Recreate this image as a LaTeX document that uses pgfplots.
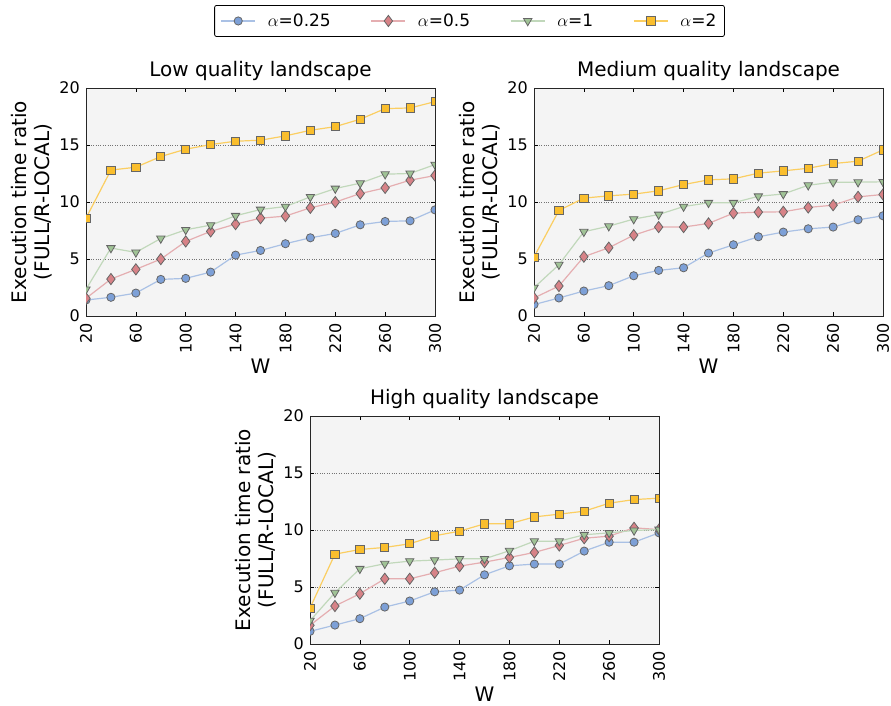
\documentclass[border=0pt]{standalone}
\usepackage{fontspec}
\setmainfont{DejaVu Sans}
\usepackage{pgfplots}
\usepackage{pgfplotstable}
\pgfplotsset{compat=1.18}

\definecolor{cb}{RGB}{125,160,215}
\definecolor{cr}{RGB}{215,130,135}
\definecolor{cg}{RGB}{160,195,150}
\definecolor{cy}{RGB}{250,190,45}
\definecolor{bgc}{RGB}{244,244,244}

\pgfplotstableread{
x a b c d
20 1.40 1.55 2.34 8.58
40 1.64 3.24 5.96 12.80
60 2.01 4.09 5.58 13.05
80 3.21 4.99 6.80 13.99
100 3.30 6.54 7.56 14.63
120 3.85 7.42 7.97 15.04
140 5.34 8.06 8.79 15.33
160 5.75 8.58 9.34 15.42
180 6.34 8.76 9.60 15.80
200 6.86 9.49 10.45 16.29
220 7.24 9.99 11.18 16.61
240 8.00 10.74 11.65 17.26
260 8.29 11.24 12.44 18.19
280 8.35 11.91 12.50 18.25
300 9.31 12.32 13.28 18.80
}\lowtab

\pgfplotstableread{
x a b c d
20 1.00 1.58 2.48 5.17
40 1.58 2.63 4.50 9.26
60 2.19 5.20 7.39 10.34
80 2.66 5.99 7.88 10.54
100 3.53 7.09 8.50 10.69
120 4.00 7.80 8.90 10.98
140 4.23 7.80 9.60 11.53
160 5.52 8.12 9.93 11.94
180 6.25 9.02 9.93 12.03
200 6.95 9.11 10.50 12.53
220 7.36 9.14 10.70 12.73
240 7.65 9.52 11.47 12.96
260 7.80 9.72 11.74 13.37
280 8.44 10.45 11.74 13.58
300 8.79 10.66 11.77 14.57
}\medtab

\pgfplotstableread{
x a b c d
20 1.11 1.64 2.04 3.15
40 1.66 3.33 4.50 7.88
60 2.22 4.41 6.60 8.29
80 3.24 5.72 7.04 8.47
100 3.77 5.72 7.27 8.79
120 4.58 6.25 7.36 9.49
140 4.73 6.83 7.47 9.90
160 6.07 7.18 7.47 10.54
180 6.86 7.59 8.18 10.54
200 7.01 8.03 9.02 11.15
220 7.01 8.64 9.02 11.39
240 8.15 9.28 9.58 11.65
260 8.93 9.46 9.75 12.35
280 8.93 10.19 9.96 12.67
300 9.75 10.04 10.04 12.79
}\hightab

\pgfplotsset{
  panel/.style={
    scale only axis, width=349pt, height=228pt,
    xmin=20, xmax=300, ymin=0, ymax=20,
    xtick={20,60,...,300}, ytick={0,5,...,20},
    axis background/.style={fill=bgc},
    ymajorgrids, grid style={dotted, black!55, line width=0.7pt},
    tick align=inside, major tick length=4pt,
    tick style={black, line width=0.6pt},
    axis line style={black!85, line width=0.9pt},
    /pgf/number format/assume math mode=true,
    tick label style={font=\fontsize{16}{19}\selectfont},
    yticklabel style={inner sep=0pt},
    yticklabel shift=6pt,
    xticklabel style={rotate=90, anchor=east, inner sep=0pt},
    xticklabel shift=7pt,
    ylabel={Execution time ratio\\(FULL/R-LOCAL)},
    ylabel style={at={(axis description cs:-0.0974,0.5)}, anchor=south, rotate=0, inner sep=0pt,
      align=center, font=\fontsize{20}{23}\selectfont},
    xlabel={W},
    xlabel style={at={(axis description cs:0.5,-0.252)}, anchor=base, inner sep=0pt, font=\fontsize{20}{23}\selectfont},
    title style={at={(axis description cs:0.5,1.026)}, anchor=base, inner sep=0pt, font=\fontsize{20}{23}\selectfont},
    clip marker paths=true,
    legend image code/.code={\draw[mark repeat=2,mark phase=2,##1] plot coordinates {(0pt,0pt)(17pt,0pt)(34pt,0pt)};},
  },
  sa/.style={color=cb!65!white, line width=1.2pt, mark=*, mark size=4.1pt, mark options={fill=cb, draw=black!60, line width=0.8pt}},
  sb/.style={color=cr!65!white, line width=1.2pt, mark=diamond*, mark size=5.6pt, mark options={fill=cr, draw=black!60, line width=0.8pt}},
  sc/.style={color=cg!65!white, line width=1.2pt, mark=triangle*, mark size=4.8pt, mark options={fill=cg, draw=black!60, line width=0.8pt, rotate=180}},
  sd/.style={color=cy!75!white, line width=1.2pt, mark=square*, mark size=4.1pt, mark options={fill=cy, draw=black!60, line width=0.8pt}},
}

\begin{document}
\begin{tikzpicture}
\useasboundingbox (0pt,0pt) rectangle (891pt,706pt);
\begin{axis}[panel, at={(86pt,390pt)}, anchor=south west, title={Low quality landscape},
  legend style={at={(axis description cs:1.0989,1.2939)}, anchor=center, legend columns=4, draw=black, line width=0.8pt, rounded corners=2pt,
    font=\fontsize{17}{20}\selectfont, inner xsep=6pt, inner ysep=6.5pt,
    /tikz/every odd column/.append style={column sep=10pt},
    /tikz/every even column/.append style={column sep=38pt}},
  legend cell align=left]
\addplot[sa] table[x=x,y=a] {\lowtab};
\addplot[sb] table[x=x,y=b] {\lowtab};
\addplot[sc] table[x=x,y=c] {\lowtab};
\addplot[sd] table[x=x,y=d] {\lowtab};
\legend{$\alpha$=0.25,$\alpha$=0.5,$\alpha$=1,$\alpha$=2}
\end{axis}
\begin{axis}[panel, at={(534pt,390pt)}, anchor=south west, title={Medium quality landscape}]
\addplot[sa] table[x=x,y=a] {\medtab};
\addplot[sb] table[x=x,y=b] {\medtab};
\addplot[sc] table[x=x,y=c] {\medtab};
\addplot[sd] table[x=x,y=d] {\medtab};
\end{axis}
\begin{axis}[panel, at={(310pt,62pt)}, anchor=south west, title={High quality landscape}]
\addplot[sa] table[x=x,y=a] {\hightab};
\addplot[sb] table[x=x,y=b] {\hightab};
\addplot[sc] table[x=x,y=c] {\hightab};
\addplot[sd] table[x=x,y=d] {\hightab};
\end{axis}
\end{tikzpicture}
\end{document}
